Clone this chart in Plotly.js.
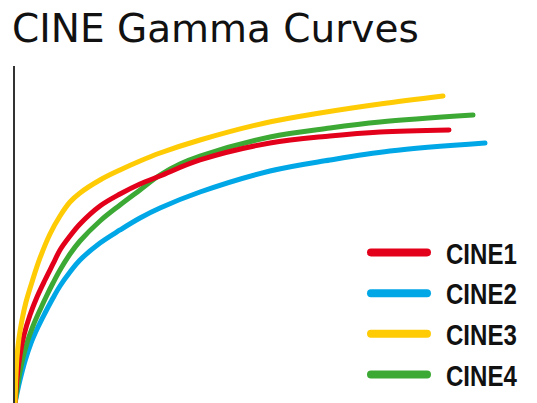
<!DOCTYPE html>
<html>
<head>
<meta charset="utf-8">
<script src="https://cdn.plot.ly/plotly-3.0.1.min.js"></script>
<style>
html,body{margin:0;padding:0;background:#fff;}
#chart{width:537px;height:403px;}
#chart .legendtext{transform-box:fill-box;transform-origin:left center;transform:translateX(14px) scaleX(0.83);}
#chart .legendlines path{stroke-linecap:round;}
#chart .scatterlayer .js-line{stroke-linecap:round;}
</style>
</head>
<body>
<div id="chart"></div>
<script>
// Series names
var seriesNames = ["CINE1", "CINE2", "CINE3", "CINE4"];
var seriesColors = ["#E3001B", "#00A7E7", "#FFCB05", "#3DA935"];

// CINE1 (red)
var cine1X = [0, 0.4, 1.0, 1.8, 3.0, 4.4, 6.0, 7.6, 9.0, 11, 13, 17, 21, 25, 29, 37, 51, 63, 73, 86.8];
var cine1Y = [0, 7.42, 14.24, 20.18, 26.11, 31.45, 36.50, 41.25, 45.40, 49.55, 53.12, 58.46, 62.02, 64.99, 67.36, 72.11, 77.15, 79.23, 80.42, 81.01];

// CINE2 (blue)
var cine2X = [0, 1, 2, 3.2, 4.6, 6, 7.6, 9, 11, 13, 17, 21, 25, 29, 37, 51, 63, 75, 94.0];
var cine2Y = [0, 6.82, 12.46, 17.80, 22.55, 26.71, 31.16, 34.72, 38.87, 42.43, 47.48, 51.34, 54.90, 57.86, 62.61, 68.84, 72.11, 74.78, 77.15];

// CINE3 (yellow)
var cine3X = [0, 0.2, 0.4, 0.8, 1.4, 2.2, 3.4, 5, 7, 9, 11, 13, 17, 21, 25, 29, 37, 50, 61, 73, 85.6];
var cine3Y = [0, 8.31, 13.65, 19.29, 24.63, 29.97, 35.91, 43.03, 50.15, 55.49, 59.64, 62.32, 66.17, 69.14, 71.81, 74.18, 78.04, 83.09, 86.05, 88.72, 91.10];

// CINE4 (green)
var cine4X = [0, 0.6, 1.4, 2.4, 3.6, 5, 6.4, 7.6, 9, 11, 13, 17, 21, 25, 29, 33, 37, 51, 63, 73, 91.6];
var cine4Y = [0, 5.93, 12.17, 17.80, 22.85, 27.60, 32.05, 35.61, 39.47, 44.21, 48.07, 54.01, 58.75, 63.21, 67.66, 70.92, 73.29, 78.93, 81.60, 83.38, 85.46];

var xs = [cine1X, cine2X, cine3X, cine4X];
var ys = [cine1Y, cine2Y, cine3Y, cine4Y];

var traces = [];
// draw order: blue, green, red, yellow
var order = [1, 3, 0, 2];
order.forEach(function (i) {
  traces.push({
    type: "scatter", mode: "lines",
    x: xs[i], y: ys[i],
    line: {color: seriesColors[i], width: 5, shape: "spline", smoothing: 1, simplify: false},
    showlegend: false, hoverinfo: "skip"
  });
});
// legend-only entries
for (var i = 0; i < 4; i++) {
  traces.push({
    type: "scatter", mode: "lines",
    x: [null], y: [null],
    name: seriesNames[i],
    line: {color: seriesColors[i], width: 8},
    showlegend: true
  });
}

var layout = {
  width: 537, height: 403,
  margin: {l: 15, r: 22, t: 66, b: 0, pad: 0},
  paper_bgcolor: "#fff", plot_bgcolor: "#fff",
  title: {
    text: "CINE Gamma Curves",
    font: {family: "DejaVu Sans, sans-serif", size: 39, color: "#111"},
    xref: "container", yref: "container",
    x: 12 / 537, xanchor: "left",
    y: 1 - 28 / 403, yanchor: "middle"
  },
  xaxis: {range: [0, 100], showgrid: false, zeroline: false, showline: false, showticklabels: false, ticks: ""},
  yaxis: {range: [0, 100], showgrid: false, zeroline: false, showline: true, linecolor: "#333", linewidth: 2,
          showticklabels: false, ticks: "", layer: "below traces"},
  showlegend: true,
  legend: {
    x: 0.702, y: 0.522, xanchor: "left", yanchor: "top",
    bgcolor: "rgba(0,0,0,0)", borderwidth: 0,
    itemwidth: 56,
    font: {family: "Liberation Sans, Arial, sans-serif", size: 29, color: "#111", weight: 700},
    traceorder: "normal"
  }
};

Plotly.newPlot("chart", traces, layout, {displayModeBar: false, staticPlot: true});
</script>
</body>
</html>
